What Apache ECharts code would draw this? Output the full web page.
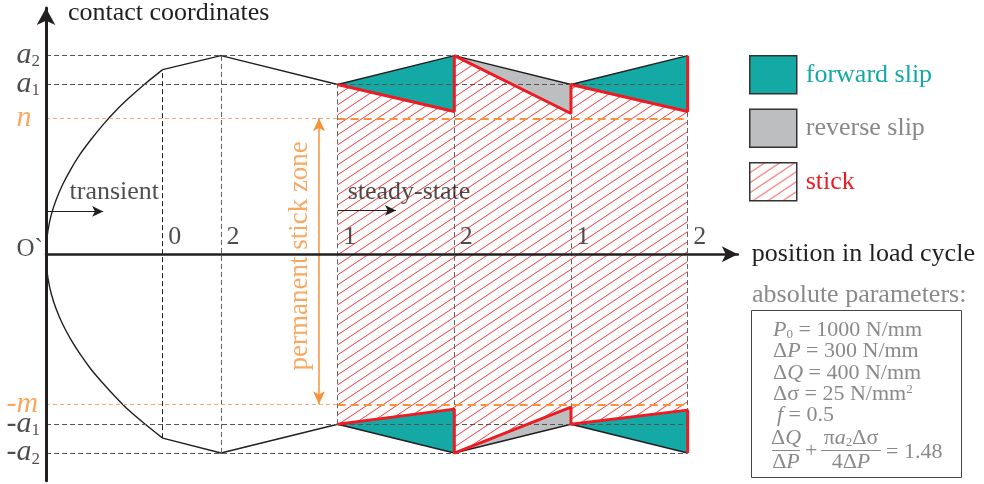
<!DOCTYPE html>
<html><head><meta charset="utf-8">
<script src="https://cdn.jsdelivr.net/npm/echarts@6/dist/echarts.min.js"></script>
<style>html,body{margin:0;padding:0;background:#fff}#c{width:984px;height:484px}</style>
</head><body><div id="c"></div>
<script>
// ---------------- data (contact coordinate normalised so that a2 = 1; x = position in load cycle) ----------------
const levelNames  = ['a2', 'a1', 'n', 'O`', '-m', '-a1', '-a2'];
const levelValues = [1.0, 0.855, 0.685, 0, -0.755, -0.855, -1.0];
const permanentLevels = ['n', '-m'];
const tickPositions = [1, 1.5, 2.5, 3.5, 4.5, 5.5];
const tickLabels    = ['0', '2', '1', '2', '1', '2'];
// transient stick/slip boundary (bottom kink -> origin -> top kink)
const transientCurve = [[1.0,-0.925],[0.84,-0.85],[0.71,-0.785],[0.6,-0.72],[0.49,-0.65],[0.379,-0.573],[0.29,-0.5],[0.21,-0.425],
                        [0.143,-0.352],[0.088,-0.276],[0.046,-0.201],[0.017,-0.121],[0.003,-0.05],[0,0],
                        [0.003,0.05],[0.017,0.121],[0.046,0.201],[0.088,0.276],[0.143,0.352],[0.211,0.427],[0.291,0.503],
                        [0.379,0.573],[0.49,0.653],[0.6,0.724],[0.715,0.789],[0.84,0.854],[1.0,0.93]];
const transientTop    = [[1.0,0.93],[1.5,1.0],[2.5,0.855]];
const transientBottom = [[1.0,-0.925],[1.5,-1.0],[2.5,-0.855]];
// steady state contact edges
const steadyX       = [2.5, 3.5, 4.5, 5.5];
const contactTop    = [0.855, 1.0, 0.855, 1.0];
const contactBottom = [-0.855, -1.0, -0.855, -1.0];
// stick zone boundaries
const stickX      = [2.5, 3.5, 3.5, 4.5, 4.5, 5.5, 5.5];
const stickTop    = [0.855, 0.719, 1.0, 0.709, 0.855, 0.719, 1.0];
const stickBottom = [-0.855, -0.779, -1.0, -0.769, -0.855, -0.784, -1.0];
// annotations
const annotationTexts   = ['transient', 'steady-state', 'permanent stick zone'];
const annotationAnchors = [[0.206, 0.312], [2.59, 0.312], [2.18, -0.01]];
const transientArrow = [[0, 0.216], [0.49, 0.216]];
const steadyArrow    = [[2.5, 0.221], [3.0, 0.221]];
const stickZoneArrowX = 2.34;

// ---------------- styles ----------------
const F = '"Liberation Serif", "Times New Roman", serif';
const INK = '#231f20', TEAL = '#14a9a4', GREY = '#bcbec0', RED = '#ed1c24',
      ORANGE = '#f7923a', ORANGE_L = '#f7a878', TXTGREY = '#8a8a8a';

function makeHatch(color) {
  const c = document.createElement('canvas'); c.width = 15; c.height = 10;
  const g = c.getContext('2d'); g.strokeStyle = color; g.lineWidth = 1;
  for (const k of [-1, 0, 1]) { g.beginPath(); g.moveTo(-3, 12 + 10 * k); g.lineTo(18, -2 + 10 * k); g.stroke(); }
  return c;
}
const hatch = { image: makeHatch('#ef3b3b'), repeat: 'repeat' };

// ---------------- derived geometry ----------------
const lv = n => levelValues[levelNames.indexOf(n)];
const pts = (xs, ys) => xs.map((x, i) => [x, ys[i]]);
const stickTopPts = pts(stickX, stickTop), stickBotPts = pts(stickX, stickBottom);
const hatchPolys = [stickTopPts.concat(stickBotPts.slice().reverse())];
const forwardPolys = [
  [[steadyX[0], contactTop[0]], [steadyX[1], contactTop[1]], [stickX[1], stickTop[1]]],
  [[steadyX[2], contactTop[2]], [steadyX[3], contactTop[3]], [stickX[5], stickTop[5]]],
  [[steadyX[0], contactBottom[0]], [steadyX[1], contactBottom[1]], [stickX[1], stickBottom[1]]],
  [[steadyX[2], contactBottom[2]], [steadyX[3], contactBottom[3]], [stickX[5], stickBottom[5]]]
];
const reversePolys = [
  [[steadyX[1], contactTop[1]], [steadyX[2], contactTop[2]], [stickX[3], stickTop[3]]],
  [[steadyX[1], contactBottom[1]], [steadyX[2], contactBottom[2]], [stickX[3], stickBottom[3]]]
];

function polySeries(name, polys, fill, z, color) {
  return {
    type: 'custom', name, z, silent: true, clip: false,
    itemStyle: { color: color },
    data: polys.map((p, i) => [p[0][0], p[0][1], i]),
    encode: { x: 0, y: 1 },
    renderItem: (params, api) => ({
      type: 'polygon',
      shape: { points: polys[params.dataIndex].map(pt => api.coord(pt)) },
      style: { fill: fill, stroke: null }
    })
  };
}
function lineSeries(name, data, color, width, z, smooth) {
  return { type: 'line', name, data, z, smooth: smooth || false, symbol: 'none', silent: true,
           lineStyle: { color, width }, emphasis: { disabled: true } };
}
function seg(p1, p2, style) { return [{ coord: p1, lineStyle: style }, { coord: p2 }]; }

// guide lines
const grayDash = { color: '#555', width: 1, type: [5, 3] };
const guideSegs = [];
['a2', 'a1', '-a1', '-a2'].forEach(n => guideSegs.push(seg([0, lv(n)], [tickPositions[5], lv(n)], grayDash)));
const topAt = [transientCurve[transientCurve.length - 1][1], transientTop[1][1], contactTop[0], contactTop[1], contactTop[2], contactTop[3]];
const botAt = [transientCurve[0][1], transientBottom[1][1], contactBottom[0], contactBottom[1], contactBottom[2], contactBottom[3]];
tickPositions.forEach((x, i) => guideSegs.push(seg([x, botAt[i]], [x, topAt[i]],
  { color: i === 0 ? '#222' : '#666', width: 1, type: [5, 3] })));
permanentLevels.forEach(n => {
  guideSegs.push(seg([0, lv(n)], [stickX[0], lv(n)], { color: ORANGE_L, width: 1, type: [4, 3] }));
  guideSegs.push(seg([stickX[0], lv(n)], [stickX[6], lv(n)], { color: ORANGE, width: 2.2, type: [8, 5] }));
});

// level labels
function levelRich(name) {
  const orange = permanentLevels.includes(name);
  if (name === 'O`') return '{r|O`}';
  let s = '';
  let rest = name;
  if (rest[0] === '-') { s += orange ? '{od|-}' : '{d|-}'; rest = rest.slice(1); }
  s += (orange ? '{oi|' : '{i|') + rest[0] + '}';
  if (rest.length > 1) s += '{s|' + rest.slice(1) + '}';
  return s;
}
const levelRichStyles = {
  i:  { fontFamily: F, fontStyle: 'italic', fontSize: 30, color: INK },
  oi: { fontFamily: F, fontStyle: 'italic', fontSize: 30, color: ORANGE },
  d:  { fontFamily: F, fontSize: 30, color: INK },
  od: { fontFamily: F, fontSize: 30, color: ORANGE },
  s:  { fontFamily: F, fontSize: 17, color: INK, verticalAlign: 'bottom' },
  r:  { fontFamily: F, fontSize: 25, color: INK }
};
const levelData = levelNames.map((n, i) => ({
  name: n, value: [0, levelValues[i]],
  label: { position: [n[0] === '-' ? -39 : -29, n === 'O`' ? -4 : 0] }
}));

const labelScatter = (name, data, label, z) => ({
  type: 'scatter', name, data, z, silent: true, symbolSize: 1,
  itemStyle: { color: 'rgba(0,0,0,0)' }, emphasis: { disabled: true },
  label: Object.assign({ show: true, fontFamily: F, fontSize: 26, color: INK, align: 'left', verticalAlign: 'middle' }, label)
});

// ---------------- parameter box (graphic) ----------------
const PF = 22;
const tok = (extra) => Object.assign({ fontFamily: F, fontSize: PF, fill: TXTGREY }, extra);
const paramRich = {
  i: tok({ fontStyle: 'italic' }),
  sb: tok({ fontSize: 13, verticalAlign: 'bottom' }),
  sp: tok({ fontSize: 13, verticalAlign: 'top' }),
  n: tok({})
};
function gText(x, y, text, extra) {
  return { type: 'text', x, y, silent: true, z: 10,
    style: Object.assign({ text, fill: TXTGREY, fontFamily: F, fontSize: PF, align: 'left', verticalAlign: 'middle', rich: paramRich }, extra || {}) };
}
const paramLines = ['{i|P}{sb|0}{n| = 1000 N/mm}', '{n|Δ}{i|P}{n| = 300 N/mm}', '{n|Δ}{i|Q}{n| = 400 N/mm}', '{n|Δσ = 25 N/mm}{sp|2}', '{i|f}{n| = 0.5}'];
const paramYs = [330, 351.5, 373, 394.5, 415];
const graphics = [
  gText(752, 295, 'absolute parameters:', { fontSize: 26, rich: null }),
  { type: 'rect', silent: true, z: 10, shape: { x: 751.5, y: 310.5, width: 210, height: 167 }, style: { fill: null, stroke: '#444', lineWidth: 1 } }
];
paramLines.forEach((t, i) => graphics.push(gText(i === 4 ? 777 : 773, paramYs[i], t)));
graphics.push(gText(786, 438, '{n|Δ}{i|Q}', { align: 'center' }));
graphics.push({ type: 'line', silent: true, z: 10, shape: { x1: 772, y1: 450.5, x2: 800, y2: 450.5 }, style: { stroke: TXTGREY, lineWidth: 1 } });
graphics.push(gText(786, 462, '{n|Δ}{i|P}', { align: 'center' }));
graphics.push(gText(805, 451, '{n|+}'));
graphics.push(gText(851, 438, '{n|π}{i|a}{sb|2}{n|Δσ}', { align: 'center' }));
graphics.push({ type: 'line', silent: true, z: 10, shape: { x1: 821, y1: 450.5, x2: 881, y2: 450.5 }, style: { stroke: TXTGREY, lineWidth: 1 } });
graphics.push(gText(851, 462, '{n|4Δ}{i|P}', { align: 'center' }));
graphics.push(gText(886, 452, '{n|= 1.48}'));

// ---------------- chart ----------------
const chart = echarts.init(document.getElementById('c'), null, { renderer: 'canvas' });
const option = {
  animation: false,
  backgroundColor: '#fff',
  grid: { left: 46, top: 7.24, width: 691.8, height: 473.62, containLabel: false },
  xAxis: {
    type: 'value', min: 0, max: 5.93, z: 6,
    axisLine: { onZero: true, lineStyle: { color: INK, width: 2.5 }, symbol: ['none', 'arrow'], symbolSize: [12, 16] },
    axisTick: { show: false }, axisLabel: { show: false }, splitLine: { show: false },
    name: 'position in load cycle', nameLocation: 'end', nameGap: 14,
    nameTextStyle: { fontFamily: F, fontSize: 26, color: INK, align: 'left', verticalAlign: 'middle' }
  },
  yAxis: {
    type: 'value', min: -1.14, max: 1.24, z: 6,
    axisLine: { onZero: false, lineStyle: { color: INK, width: 3 }, symbol: ['none', 'arrow'], symbolSize: [14, 17] },
    axisTick: { show: false }, axisLabel: { show: false }, splitLine: { show: false },
    name: 'contact coordinates', nameLocation: 'end', nameGap: -5,
    nameTextStyle: { fontFamily: F, fontSize: 26, color: INK, align: 'left', verticalAlign: 'middle', padding: [0, 0, 0, 22] }
  },
  legend: {
    orient: 'vertical', left: 749, top: 55, padding: 0, itemWidth: 47, itemHeight: 38, itemGap: 14,
    icon: 'rect', selectedMode: false,
    textStyle: { fontFamily: F, fontSize: 26, padding: [0, 0, 0, 4] },
    itemStyle: { borderColor: '#333', borderWidth: 1.5 },
    data: [
      { name: 'forward slip', textStyle: { color: TEAL }, itemStyle: { color: TEAL } },
      { name: 'reverse slip', textStyle: { color: '#888' }, itemStyle: { color: GREY } },
      { name: 'stick', textStyle: { color: RED }, itemStyle: { color: hatch } }
    ]
  },
  graphic: graphics,
  series: [
    polySeries('stick', hatchPolys, hatch, 1, RED),
    polySeries('forward slip', forwardPolys, TEAL, 2, TEAL),
    polySeries('reverse slip', reversePolys, GREY, 2, GREY),
    { type: 'line', name: 'guides', data: [], z: 3, silent: true, symbol: 'none',
      markLine: { silent: true, symbol: ['none', 'none'], label: { show: false }, animation: false, data: guideSegs } },
    lineSeries('transient boundary', transientCurve, INK, 1.4, 4, 0.3),
    lineSeries('transient top', transientTop, INK, 1.4, 4),
    lineSeries('transient bottom', transientBottom, INK, 1.4, 4),
    lineSeries('contact top', pts(steadyX, contactTop), INK, 1.4, 4),
    lineSeries('contact bottom', pts(steadyX, contactBottom), INK, 1.4, 4),
    lineSeries('stick top', stickTopPts, RED, 3, 5),
    lineSeries('stick bottom', stickBotPts, RED, 3, 5),
    { type: 'line', name: 'stick zone arrow', data: [], z: 5, silent: true, symbol: 'none',
      markLine: { silent: true, symbol: ['arrow', 'arrow'], symbolSize: [9, 13], label: { show: false }, animation: false,
        data: [seg([stickZoneArrowX, lv('n')], [stickZoneArrowX, lv('-m')], { color: ORANGE, width: 1.5, type: 'solid' })] } },
    { type: 'line', name: 'phase arrows', data: [], z: 5, silent: true, symbol: 'none',
      markLine: { silent: true, symbol: ['none', 'arrow'], symbolSize: [8, 11], label: { show: false }, animation: false,
        data: [seg(transientArrow[0], transientArrow[1], { color: INK, width: 1.2, type: 'solid' }),
               seg(steadyArrow[0], steadyArrow[1], { color: INK, width: 1.2, type: 'solid' })] } },
    labelScatter('level labels', levelData, { formatter: p => levelRich(p.name), rich: levelRichStyles }, 7),
    labelScatter('tick labels', tickPositions.map((x, i) => ({ name: tickLabels[i], value: [x, 0] })),
      { formatter: '{b}', position: [6, -17] }, 7),
    labelScatter('annotations', annotationTexts.map((t, i) => ({
        name: t, value: annotationAnchors[i],
        label: i === 2 ? { rotate: 90, align: 'center', color: ORANGE, fontSize: 27, position: [0, 0] } : { position: [0, 0] }
      })), { formatter: '{b}' }, 7)
  ]
};
chart.setOption(option);
</script>
</body></html>
